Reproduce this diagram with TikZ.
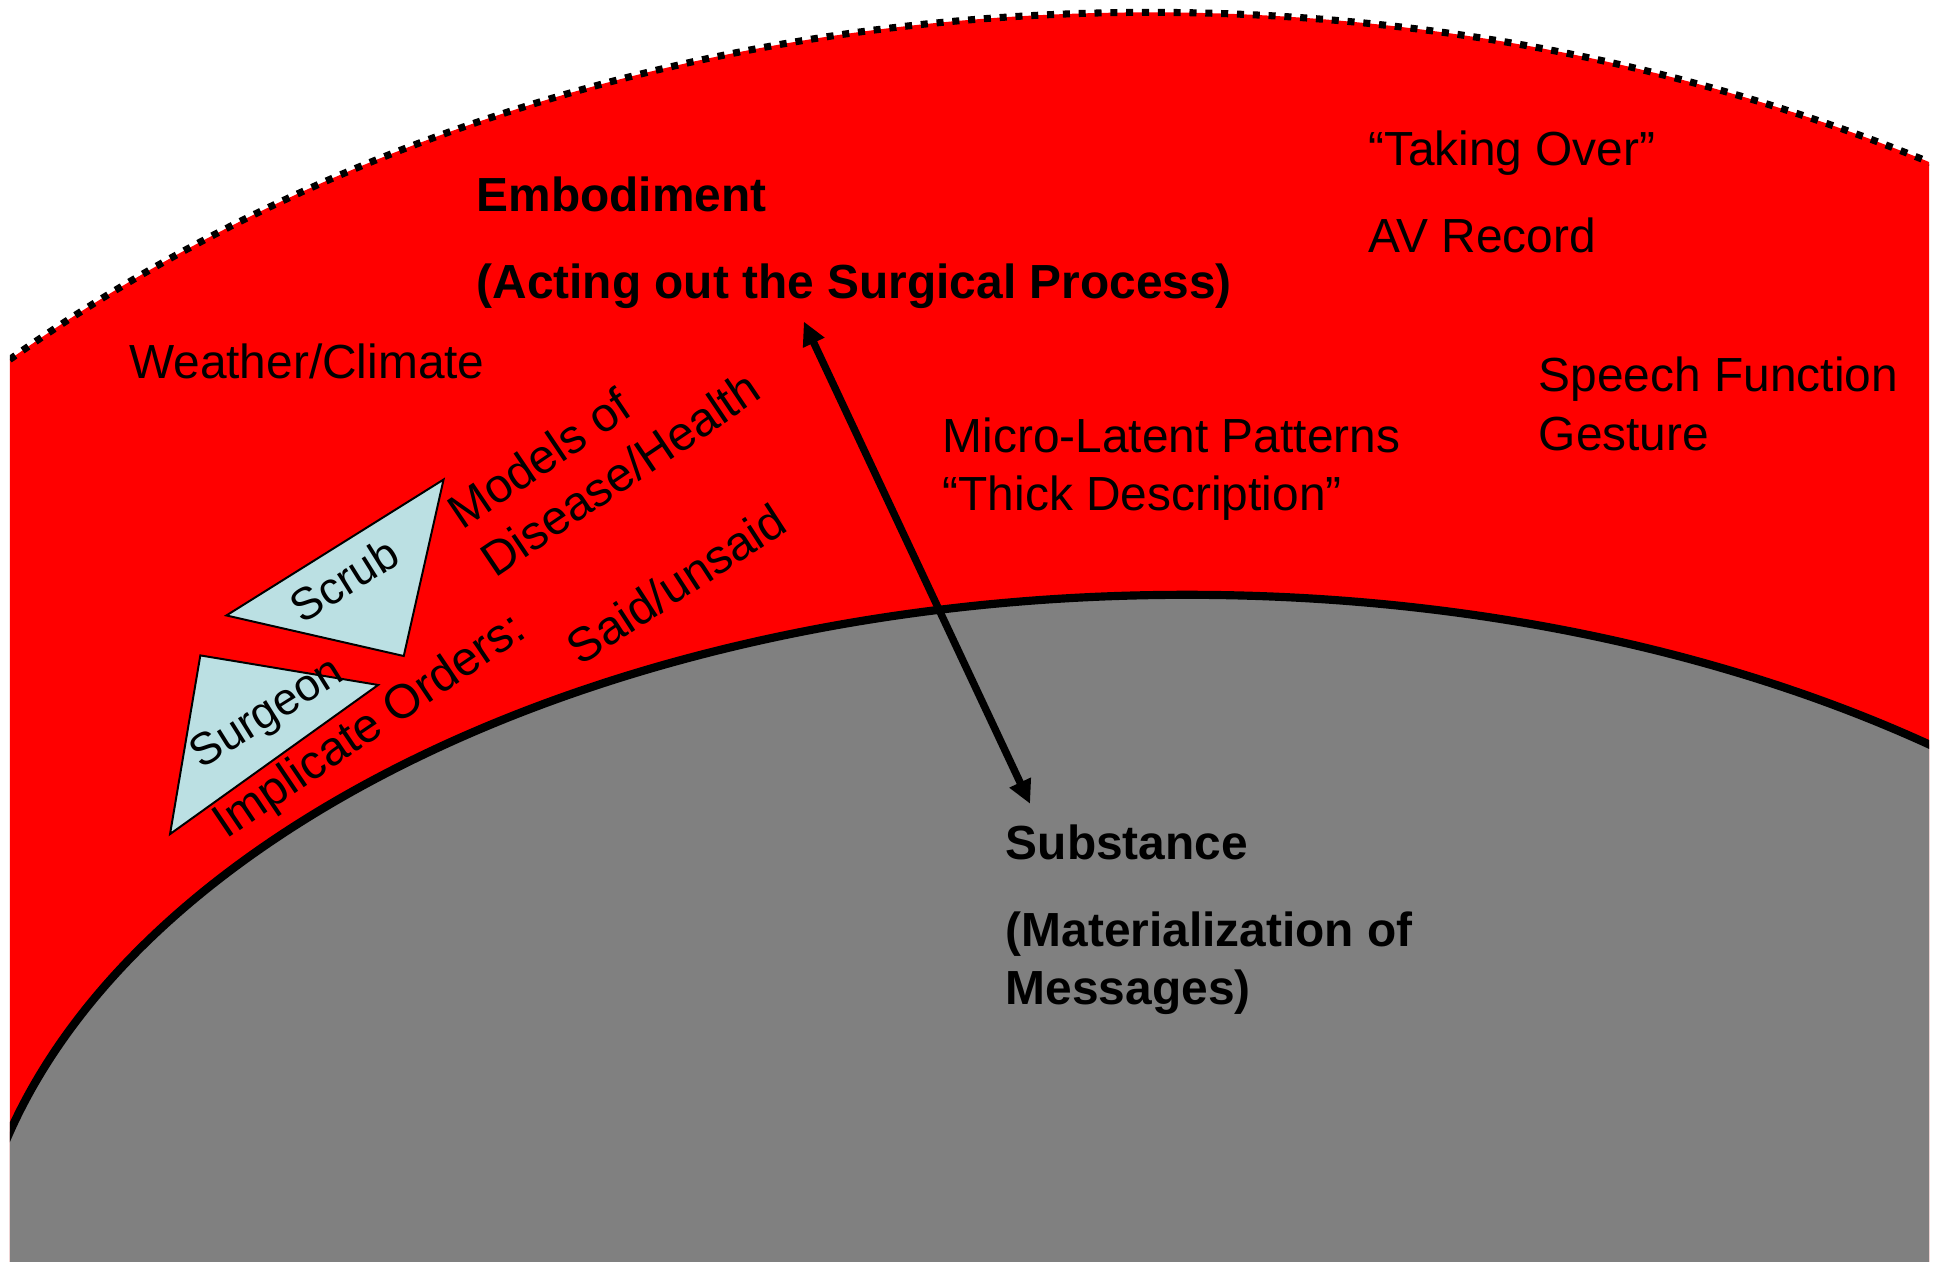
\documentclass[tikz,border=0pt]{standalone}
\usepackage{fontspec}
\setmainfont{Liberation Sans}
\usepackage{tikz}
\usetikzlibrary{arrows.meta}

\definecolor{roleBlue}{RGB}{187,224,227}
\definecolor{coreGray}{RGB}{128,128,128}

\begin{document}
\begin{tikzpicture}[x=0.5pt, y=-0.5pt, >={Triangle[length=9.5pt,width=9pt]}]
  \tikzstyle{txt} = [anchor=base west, inner sep=0pt, align=left, font={\fontsize{19.35pt}{23.5pt}\selectfont}]
  \tikzstyle{txtBold} = [txt, font={\fontsize{19.35pt}{23.5pt}\selectfont\bfseries}]
  \tikzstyle{slanted} = [txt, rotate=34]
  \tikzstyle{role} = [draw=black, line width=0.8pt, fill=roleBlue]
  \tikzstyle{roleLabel} = [inner sep=0pt, rotate=32, font={\fontsize{18.2pt}{22pt}\selectfont}]
  \tikzstyle{twoWay} = [black, line width=3pt, <->];

  \useasboundingbox (0,0) rectangle (1568,1020);

  \begin{scope}
    \clip (8,0) rectangle (1560,1020);
    \fill[red] (930,1144) ellipse [x radius=700pt, y radius=567pt];
    \draw[black, line width=2.85pt, dash pattern=on 2.85pt off 3.55pt] (930,1144) ellipse [x radius=700pt, y radius=567pt];
    \draw[fill=coreGray, line width=3.3pt] (960,1066) ellipse [x radius=492.5pt, y radius=292.5pt];
  \end{scope}

  \draw[role] (358.7,387.8) -- (183.1,497.7) -- (326.5,530.5) -- cycle;
  \draw[role] (162,530) -- (305.8,553.9) -- (137.5,674.5) -- cycle;
  \node[roleLabel] (scrub)   at (278.2,469) {Scrub};
  \node[roleLabel] (surgeon) at (216.6,578.2) {Surgeon};

  \node[txtBold] (embodiment) at (385,241) {Embodiment\\[11.5pt](Acting out the Surgical Process)};
  \node[txt]     (weather)    at (104,306) {Weather/Climate};
  \node[txt]     (takingOver) at (1106,204) {“Taking Over”\\[11.5pt]AV Record};
  \node[txt]     (speech)     at (1244,364) {Speech Function\\Gesture};
  \node[txt]     (microLatent) at (762,413) {Micro-Latent Patterns\\“Thick Description”};
  \node[txtBold] (substance)  at (813,812) {Substance\\[11.5pt](Materialization of\\Messages)};

  \node[slanted] (models)     at (400,468) {Models of\\Disease/Health};
  \node[slanted] (implicate)  at (183,679.3) {Implicate Orders:};
  \node[slanted, rotate=-1] (saidUnsaid) at (469,539.1) {Said/unsaid};

  \coordinate (embTip) at (650,260);
  \coordinate (subTip) at (833,650);
  \path (embTip) edge[twoWay] (subTip);
\end{tikzpicture}
\end{document}
